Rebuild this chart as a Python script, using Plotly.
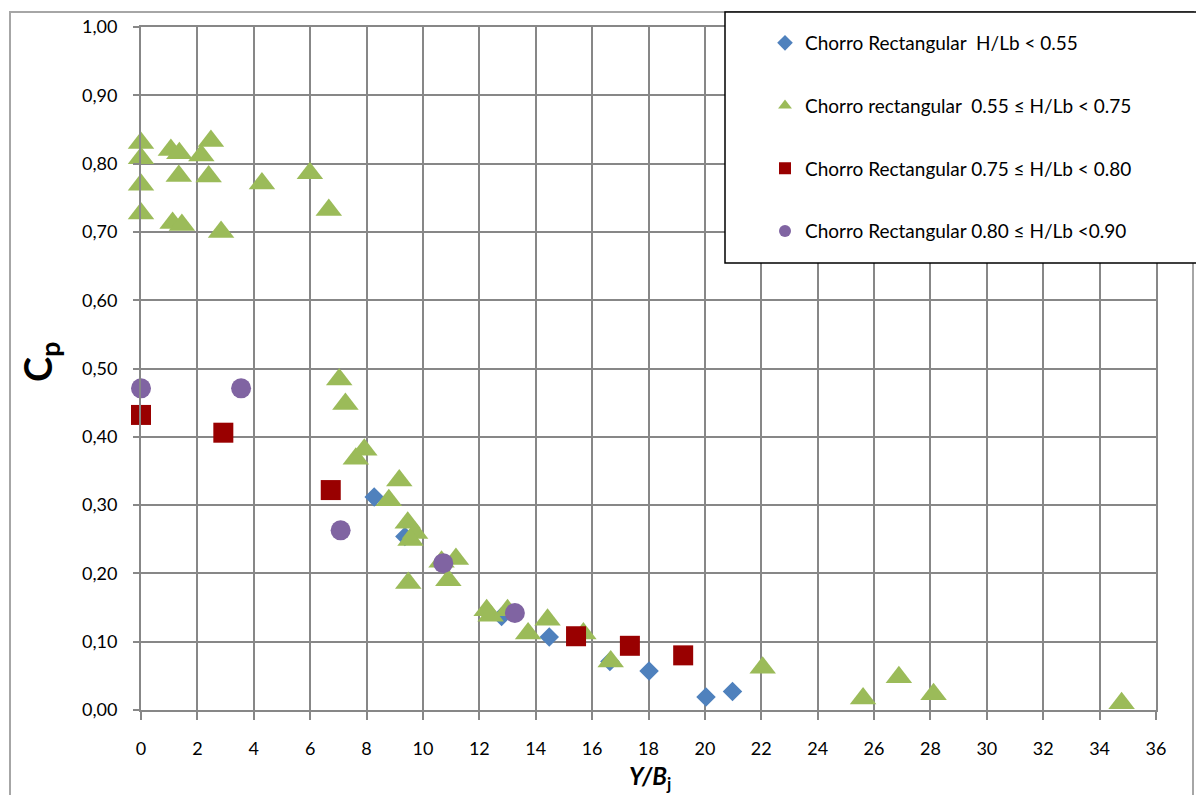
import plotly.graph_objects as go

# ---- data ----
blue_x = [8.27, 9.36, 12.79, 14.48, 16.63, 18.02, 20.04, 20.98]
blue_y = [0.312, 0.254, 0.137, 0.107, 0.071, 0.057, 0.019, 0.027]

green_x = [0.0, 0.0, 0.0, 0.0, 1.06, 1.36, 1.34, 1.12, 1.45, 2.14, 2.48, 2.40, 2.84,
           4.29, 5.99, 6.66, 7.03, 7.25, 7.62, 7.92, 9.16, 8.79, 9.46, 9.72, 9.56,
           10.66, 11.17, 10.90, 9.48, 12.26, 12.40, 13.00, 13.73, 14.42, 15.69,
           16.66, 22.05, 25.61, 26.88, 28.11, 34.78]
green_y = [0.830, 0.808, 0.769, 0.727, 0.820, 0.815, 0.782, 0.713, 0.710, 0.812, 0.833, 0.781, 0.700,
           0.771, 0.786, 0.732, 0.484, 0.448, 0.368, 0.381, 0.336, 0.307, 0.274, 0.259, 0.249,
           0.217, 0.221, 0.190, 0.186, 0.146, 0.138, 0.146, 0.112, 0.132, 0.112,
           0.071, 0.062, 0.017, 0.048, 0.023, 0.010]

red_x = [0.0, 2.92, 6.73, 15.43, 17.34, 19.23]
red_y = [0.432, 0.406, 0.322, 0.108, 0.094, 0.080]

purple_x = [0.0, 3.55, 7.08, 10.72, 13.26]
purple_y = [0.471, 0.471, 0.263, 0.215, 0.142]

names = [
    "Chorro Rectangular\u00a0\u00a0H/Lb &lt; 0.55",
    "Chorro rectangular\u00a0\u00a00.55 ≤ H/Lb &lt; 0.75",
    "Chorro Rectangular 0.75 ≤ H/Lb &lt; 0.80",
    "Chorro Rectangular 0.80 ≤ H/Lb &lt;0.90",
]
x_ticks = list(range(0, 37, 2))
y_ticks = [i / 10 for i in range(0, 11)]

FONT = "Lato"
GRID = "#878787"

# plot-area geometry (pixels)
W, H = 1196, 795
L, R, T, B = 141, 1156, 27, 710
pw, ph = R - L, B - T


def px_x(p):
    return (p - L) / pw


def px_y(p):
    return (B - p) / ph


fig = go.Figure()
series = [
    (blue_x, blue_y, "diamond", 15, "#4F81BD"),
    (green_x, green_y, "triangle-up", 23, "#9BBB59"),
    (red_x, red_y, "square", 20, "#990000"),
    (purple_x, purple_y, "circle", 20, "#8064A2"),
]
for i, (xs, ys, sym, sz, col) in enumerate(series):
    fig.add_trace(go.Scatter(
        x=xs, y=ys, mode="markers", name=names[i], legendgroup=f"g{i}",
        marker=dict(symbol=sym, size=sz, color=col, line=dict(width=0)),
        cliponaxis=False,
    ))

fig.update_layout(
    width=W, height=H,
    margin=dict(l=L, r=W - R, t=T, b=H - B),
    paper_bgcolor="white", plot_bgcolor="white",
    separators=",.",
    font=dict(family=FONT, size=18, color="black"),
    showlegend=True,
    legend=dict(
        x=px_x(765), y=px_y(24), xanchor="left", yanchor="top",
        bgcolor="rgba(0,0,0,0)", borderwidth=0,
        traceorder="grouped", tracegroupgap=35,
        itemsizing="constant",
        font=dict(family=FONT, size=19, color="black"),
    ),
    xaxis=dict(
        range=[0, 36], tickvals=x_ticks, ticktext=[str(v) for v in x_ticks],
        showgrid=True, gridcolor=GRID, gridwidth=2,
        zeroline=False, showline=True, linecolor=GRID, linewidth=2, mirror=True,
        ticks="outside", ticklen=8, tickwidth=2, tickcolor=GRID,
        ticklabelstandoff=13,
        tickfont=dict(family=FONT, size=18, color="black"),
    ),
    yaxis=dict(
        range=[0, 1], tickvals=y_ticks, tickformat=".2f",
        showgrid=True, gridcolor=GRID, gridwidth=2,
        zeroline=False, showline=True, linecolor=GRID, linewidth=2, mirror=True,
        ticks="outside", ticklen=6, tickwidth=2, tickcolor=GRID,
        ticklabelstandoff=12,
        tickfont=dict(family=FONT, size=18, color="black"),
    ),
    shapes=[
        # outer chart border
        dict(type="rect", xref="paper", yref="paper", layer="below",
             x0=px_x(10), x1=px_x(1193), y0=px_y(830), y1=px_y(12),
             line=dict(color="#A6A6A6", width=2), fillcolor="rgba(0,0,0,0)"),
        # legend box
        dict(type="rect", xref="paper", yref="paper", layer="above",
             x0=px_x(725), x1=px_x(1230), y0=px_y(263), y1=px_y(12),
             line=dict(color="black", width=1.5), fillcolor="white"),
    ],
    annotations=[
        dict(text="<b>C<sub>p</sub></b>", xref="paper", yref="paper",
             x=px_x(40), y=px_y(362), xanchor="center", yanchor="middle",
             textangle=-90, showarrow=False,
             font=dict(family=FONT, size=38, color="black")),
        dict(text="<b><i>Y/B</i><sub>j</sub></b>", xref="paper", yref="paper",
             x=px_x(650), y=px_y(777), xanchor="center", yanchor="middle",
             showarrow=False,
             font=dict(family=FONT, size=24, color="black")),
    ],
)

fig.write_html("out.html")
